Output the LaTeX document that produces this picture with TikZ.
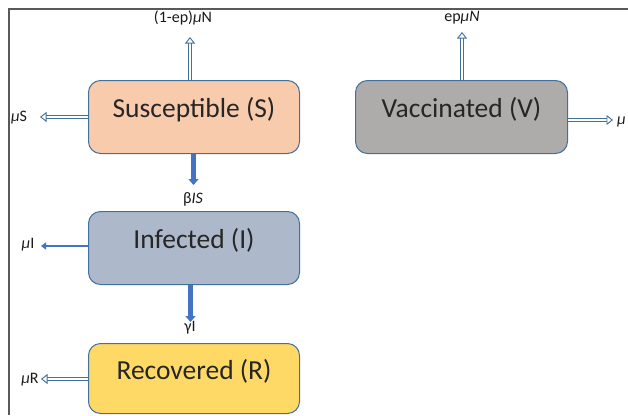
\documentclass[tikz,border=0pt]{standalone}
\usepackage{fontspec}
\setmainfont{Carlito}
\usetikzlibrary{arrows.meta}
\definecolor{edgeblue}{HTML}{41719C}
\definecolor{arrblue}{HTML}{4472C4}
\definecolor{sfill}{HTML}{F8CBAD}
\definecolor{vfill}{HTML}{AEABAB}
\definecolor{ifill}{HTML}{ADB9CA}
\definecolor{rfill}{HTML}{FFD966}
\definecolor{framegray}{HTML}{595959}
\tikzset{
  compbox/.style={draw=edgeblue, line width=1pt, rounded corners=12pt,
    minimum width=211pt, minimum height=73pt, inner sep=0pt,
    font=\fontsize{27.5}{30}\selectfont, text=black!85, text height=19pt, text depth=18pt, anchor=north west},
  dblarrow/.style={draw=edgeblue, line width=0.9pt, double=white, double distance=2.4pt,
    -{Triangle[open, fill=white, width=10pt, length=6.5pt, line width=0.9pt]}},
  thickarrow/.style={draw=arrblue, line width=4.5pt,
    -{Triangle[width=10pt, length=6pt]}},
  medarrow/.style={draw=arrblue, line width=2.6pt,
    -{Triangle[width=7pt, length=5pt]}},
  lbl/.style={font=\fontsize{16}{18}\selectfont, inner sep=0pt, text=black!90},
}
\begin{document}
\begin{tikzpicture}[x=1pt, y=-1pt]
\useasboundingbox (0,0) rectangle (628,415);
\draw[framegray, line width=1.2pt] (9,415) -- (9,9) -- (628,9);
% boxes
\node[compbox, fill=sfill] (S) at (88,80) {Susceptible (S)};
\node[compbox, fill=vfill, minimum width=212pt] (V) at (355,80) {Vaccinated (V)};
\node[compbox, fill=ifill] (I) at (88,211) {Infected (I)};
\node[compbox, fill=rfill, minimum height=70pt] (R) at (88,343) {Recovered (R)};
% labels
\node[lbl] (lN) at (183,18) {(1-ep)\textit{μ}N};
\node[lbl] (lV) at (462,18) {ep\textit{μN}};
\node[lbl] (lS) at (19,118) {\textit{μ}S};
\node[lbl] (lB) at (193,199) {β\textit{IS}};
\node[lbl] (lI) at (28,245) {\textit{μ}I};
\node[lbl] (lG) at (190,328) {γI};
\node[lbl] (lR) at (30,380) {\textit{μ}R};
\node[lbl, anchor=west] (lVo) at (617,122) {\textit{μ}};
% free ends
\coordinate (eN) at (190,37);
\coordinate (eV) at (462,32);
\coordinate (eS) at (40,117);
\coordinate (eVo) at (613,120);
\coordinate (eR) at (41,379);
\coordinate (eI) at (41,246);
% connectors
\draw[dblarrow] (S.north -| eN) -- (eN);
\draw[dblarrow] (V.north -| eV) -- (eV);
\draw[dblarrow] (S.west |- eS) -- (eS);
\draw[dblarrow] (V.east |- eVo) -- (eVo);
\draw[dblarrow] (R.west |- eR) -- (eR);
\draw[medarrow] (I.west |- eI) -- (eI);
\draw[thickarrow] ([xshift=-0.5pt]S.south) -- ([xshift=-0.5pt, yshift=-31pt]S.south);
\draw[thickarrow] ([xshift=-3.5pt]I.south) -- ([xshift=-3.5pt, yshift=-37pt]I.south);
\end{tikzpicture}
\end{document}
